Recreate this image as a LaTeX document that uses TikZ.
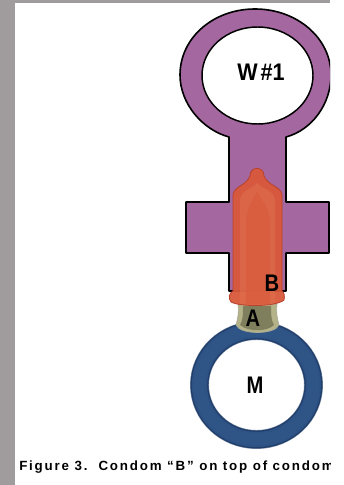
\documentclass[tikz,border=0pt]{standalone}
\usepackage{fontspec}
\setmainfont{Liberation Sans}
\newfontfamily\captionface[LetterSpace=13.6]{Liberation Sans}
\definecolor{panelgrey}{HTML}{A09C9D}
\definecolor{femalepurple}{HTML}{A4679F}
\definecolor{ringblue}{HTML}{2F5587}
\definecolor{ringdark}{HTML}{1F3D69}
\definecolor{sheathorange}{HTML}{D9593A}
\definecolor{sheathedge}{HTML}{B8412C}
\definecolor{sheathlight}{HTML}{E0704F}
\definecolor{innerkhaki}{HTML}{B4B288}
\definecolor{innerdark}{HTML}{6E6F50}
\tikzset{
  x=0.75pt,y=-0.75pt,
  labeltext/.style={font=\bfseries\fontsize{18}{18}\selectfont,text=black,inner sep=0pt,xscale=0.84},
  outlined/.style={draw=black,line width=1.2pt,line join=round}
}
\begin{document}
\begin{tikzpicture}
\useasboundingbox (0,0) rectangle (343,485);
% page edges
\fill[panelgrey] (0,0) rectangle (330,3);
\fill[panelgrey] (0,0) rectangle (15,485);
% purple figure, trimmed at the page edge
\begin{scope}
  \clip (15,3) rectangle (330,485);
  \path[outlined,fill=femalepurple]
    (229,137) -- (229,202) -- (186,202) -- (186,253) -- (229,253) -- (229,291)
    -- (286,291) -- (286,253) -- (329,253) -- (329,202) -- (286,202) -- (286,137)
    .. controls (312,130) and (331,104) .. (331,75)
    .. controls (331,38) and (297,9) .. (255,9)
    .. controls (213,9) and (180,38) .. (180,75)
    .. controls (180,104) and (203,130) .. (229,137) -- cycle;
  \fill[white,draw=black,line width=1.1pt] (257.5,75.5) ellipse [x radius=55.5,y radius=48.5];
\end{scope}
% blue ring with a darker rim
\draw[ringdark!60!white,line width=14.2pt] (256.5,385) ellipse [x radius=57,y radius=54.5];
\draw[ringdark,line width=13.4pt] (256.5,385) ellipse [x radius=57,y radius=54.5];
\draw[ringblue!85!ringdark,line width=11.5pt] (256.5,385) ellipse [x radius=57,y radius=54.5];
\draw[ringblue,line width=9pt] (256.5,385) ellipse [x radius=57,y radius=54.5];
% inner sheath
\path[fill=innerkhaki,draw=innerdark!60!white,line width=0.5pt]
  (238,304) .. controls (239,312) and (238,318) .. (236,325)
  .. controls (240,335) and (275,335) .. (279,325)
  .. controls (277,318) and (276,312) .. (277,304) -- cycle;
\fill[innerdark,opacity=0.75]
  (243,306) .. controls (243,314) and (243,320) .. (240,325)
  .. controls (248,332) and (267,332) .. (274,325)
  .. controls (271,320) and (271,314) .. (271,306) -- cycle;
% outer sheath over the stem
\path[fill=sheathorange,draw=sheathedge,line width=0.6pt,fill opacity=0.95]
  (233,291) -- (233,195)
  .. controls (234,186) and (246,186) .. (250,176)
  .. controls (250,170) and (254,168.5) .. (257,168.5)
  .. controls (260,168.5) and (264,170) .. (264,176)
  .. controls (268,186) and (281,186) .. (282,195)
  -- (282,291)
  .. controls (284,292) and (285,296) .. (284,300)
  .. controls (276,307) and (240,307) .. (231,302)
  .. controls (228,298) and (229,293) .. (233,291) -- cycle;
\fill[sheathlight,opacity=0.55]
  (240,200) .. controls (241,190) and (252,189) .. (257,183)
  .. controls (262,189) and (274,190) .. (275,200)
  -- (275,303) .. controls (262,305.5) and (250,305.5) .. (240,303.5) -- cycle;
\fill[sheathorange,opacity=0.6]
  (246,222) .. controls (247,206) and (254,198) .. (257,192)
  .. controls (260,198) and (269,206) .. (270,222)
  -- (270,304) -- (246,304) -- cycle;
% labels
\node[labeltext,xscale=1.07] (ringw) at (261,72) {W\hspace{0.14em}\#1};
\node[labeltext] (sheathb) at (272,283) {B};
\node[labeltext] (sheatha) at (253,318) {A};
\node[labeltext] (ringm) at (255,385) {M};
% caption, running off the page edge
\begin{scope}
  \clip (15,450) rectangle (330,485);
  \node[anchor=base west,inner sep=0pt,font=\captionface\bfseries\fontsize{10}{11}\selectfont] (figcaption) at (19,470.5)
    {Figure 3.\ \ Condom “B” on top of condom};
\end{scope}
\end{tikzpicture}
\end{document}
